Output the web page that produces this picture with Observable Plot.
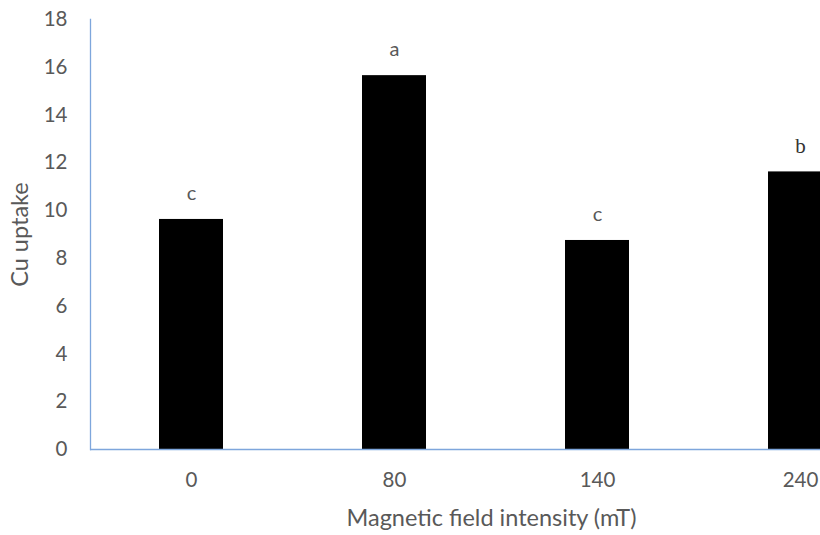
<!DOCTYPE html>
<html>
<head>
<meta charset="utf-8">
<script src="https://cdn.jsdelivr.net/npm/d3@7"></script>
<script src="https://cdn.jsdelivr.net/npm/@observablehq/plot@0.6"></script>
<style>
  html, body { margin: 0; padding: 0; background: #fff; overflow: hidden; }
  #chart svg { overflow: hidden; }
</style>
</head>
<body>
<div id="chart"></div>
<script>
const intensities = ["0", "80", "140", "240"];
const cuUptake = [9.63, 15.65, 8.75, 11.62];
const groups = ["c", "a", "c", "b"];
const yTicks = [0, 2, 4, 6, 8, 10, 12, 14, 16, 18];

const data = intensities.map((k, i) => ({intensity: k, value: cuUptake[i], group: groups[i]}));

const textColor = "#595959";
const axisColor = "#7EA6DC";
const font = "Lato, 'Open Sans', sans-serif";

const chart = Plot.plot({
  width: 820,
  height: 535,
  marginTop: 19,
  marginBottom: 86,
  marginLeft: 90,
  marginRight: 0,
  style: {fontFamily: font, fontSize: "20px", color: textColor, background: "#fff", overflow: "hidden"},
  x: {domain: intensities, range: [88, 902], paddingInner: 0.686, paddingOuter: 0.343, label: null},
  y: {domain: [0, 18], label: null},
  marks: [
    Plot.barY(data, {x: "intensity", y: "value", fill: "#000"}),
    Plot.ruleY([0], {stroke: axisColor, strokeWidth: 1.3}),
    Plot.frame({anchor: "left", stroke: axisColor, strokeWidth: 1.3}),
    Plot.axisY(yTicks, {tickSize: 0, tickPadding: 23, fill: textColor, fontSize: 20.5, label: null}),
    Plot.axisX({tickSize: 0, tickPadding: 23, fill: textColor, fontSize: 20.5, label: null}),
    Plot.text(data.filter(d => d.group !== "b"), {x: "intensity", y: "value", text: "group", dy: -26, fill: textColor, fontSize: 20}),
    Plot.text(data.filter(d => d.group === "b"), {x: "intensity", y: "value", text: "group", dy: -26, fill: "#333", fontSize: 21, fontFamily: "Liberation Serif"}),
    Plot.text(["Cu uptake"], {frameAnchor: "left", textAnchor: "middle", dx: -70, rotate: -90, fill: textColor, fontSize: 23.5}),
    Plot.text(["Magnetic field intensity (mT)"], {frameAnchor: "bottom", dx: 36, dy: 76, fill: textColor, fontSize: 23.5})
  ]
});
document.getElementById("chart").appendChild(chart);
</script>
</body>
</html>
